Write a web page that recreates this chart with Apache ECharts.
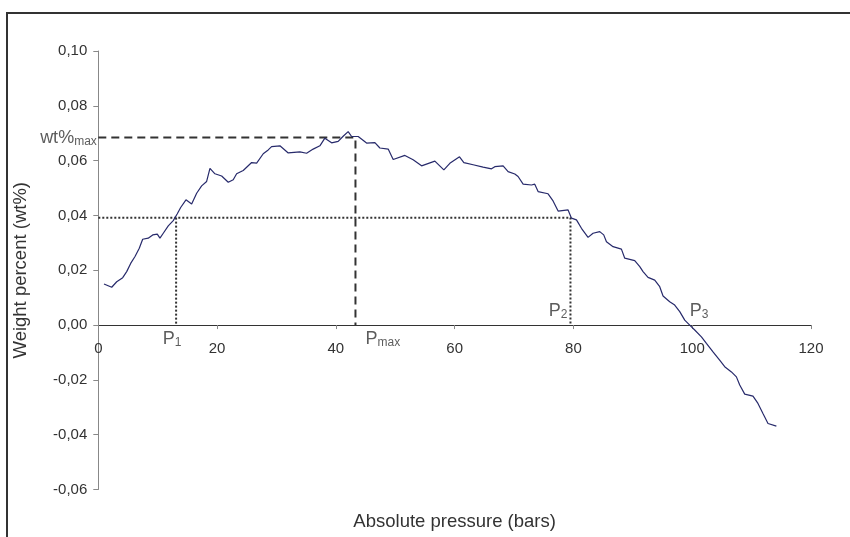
<!DOCTYPE html>
<html><head><meta charset="utf-8">
<script src="https://cdn.jsdelivr.net/npm/echarts@6/dist/echarts.min.js"></script>
<style>html,body{margin:0;padding:0;background:#fff}#c{width:850px;height:537px}</style>
</head><body><div id="c"></div>
<script>
// Absolute pressure (bars)
const pressure = [0.96,2.26,3.10,4.11,4.78,5.45,6.18,6.90,7.47,8.41,9.16,9.93,10.38,10.94,11.78,12.62,13.30,13.87,14.76,15.72,16.56,17.40,18.24,18.80,19.64,20.77,21.88,22.72,23.29,24.40,25.82,26.66,27.77,28.61,29.18,30.58,31.98,33.94,35.07,36.18,37.31,38.15,39.28,40.39,41.23,42.07,42.65,43.76,45.17,46.57,47.41,48.81,49.65,51.62,53.01,54.43,56.67,58.18,59.19,60.82,61.55,63.11,64.79,66.21,66.76,68.16,69.00,70.13,70.68,71.53,72.94,73.49,74.05,75.73,76.57,77.42,79.10,79.67,80.51,81.35,82.46,83.30,84.43,85.10,85.56,86.67,88.08,88.64,90.32,91.17,91.72,92.56,93.69,94.53,95.09,96.21,97.05,97.90,98.74,99.58,100.42,101.55,102.39,103.50,104.62,105.47,106.60,107.44,108.00,108.84,110.23,111.07,111.91,112.76,114.17];
// Weight percent (wt%)
const wtPercent = [0.0150,0.0138,0.0158,0.0173,0.0195,0.0225,0.0250,0.0280,0.0313,0.0317,0.0329,0.0332,0.0317,0.0335,0.0362,0.0381,0.0406,0.0429,0.0457,0.0442,0.0481,0.0508,0.0524,0.0572,0.0552,0.0544,0.0521,0.0530,0.0552,0.0564,0.0593,0.0591,0.0625,0.0639,0.0651,0.0654,0.0628,0.0632,0.0627,0.0642,0.0654,0.0682,0.0665,0.0670,0.0689,0.0706,0.0688,0.0688,0.0664,0.0666,0.0646,0.0642,0.0604,0.0619,0.0603,0.0581,0.0598,0.0566,0.0590,0.0614,0.0593,0.0585,0.0576,0.0570,0.0578,0.0581,0.0560,0.0551,0.0542,0.0514,0.0511,0.0514,0.0487,0.0479,0.0453,0.0416,0.0420,0.0390,0.0384,0.0353,0.0320,0.0335,0.0341,0.0329,0.0304,0.0286,0.0277,0.0244,0.0235,0.0213,0.0195,0.0174,0.0164,0.0140,0.0106,0.0085,0.0073,0.0049,0.0018,0.0000,-0.0018,-0.0043,-0.0067,-0.0098,-0.0128,-0.0152,-0.0171,-0.0189,-0.0219,-0.0252,-0.0259,-0.0286,-0.0323,-0.0359,-0.0369];
// Annotation values
const wtMax = 0.0684;
const pMax = 43.3;
const wtLevel = 0.0392;
const p1 = 13.1;
const p2 = 79.5;
const p3 = 99.6;
// Axis ranges
const xRange = [0, 120, 20];
const yRange = [-0.06, 0.10, 0.02];

const FONT = '"Liberation Sans", Arial, sans-serif';
const TXT = '#333';
const rich = {
  m: {fontSize: 18, fontFamily: FONT, color: TXT, lineHeight: 20},
  s: {fontSize: 12, fontFamily: FONT, color: TXT, verticalAlign: 'bottom', lineHeight: 14}
};

const curve = pressure.map((p, i) => [p, wtPercent[i]]);

const GRID = {left: 98.3, right: 39, top: 51, bottom: 47.5};
const plotH = 537 - GRID.top - GRID.bottom;
// shift the x axis (line, ticks, labels) up to y = 0
const zeroShift = plotH * (0 - yRange[0]) / (yRange[1] - yRange[0]);

const chart = echarts.init(document.getElementById('c'), null, {renderer: 'canvas'});
chart.setOption({
  animation: false,
  backgroundColor: '#fff',
  grid: Object.assign({containLabel: false, outerBoundsMode: 'none'}, GRID),
  graphic: [{
    type: 'polyline', shape: {points: [[7, 537], [7, 13], [850, 13]]},
    style: {stroke: '#333', lineWidth: 2, fill: null}
  }],
  xAxis: {
    type: 'value', min: xRange[0], max: xRange[1], interval: xRange[2],
    offset: -zeroShift,
    name: 'Absolute pressure (bars)', nameLocation: 'middle', nameGap: 187,
    nameTextStyle: {fontSize: 18.5, fontFamily: FONT, color: TXT},
    splitLine: {show: false},
    axisLine: {onZero: false, lineStyle: {color: '#333', width: 1}},
    axisTick: {show: true, length: 4, inside: false, lineStyle: {color: '#888'}},
    axisLabel: {fontSize: 15, fontFamily: FONT, color: TXT, margin: 16}
  },
  yAxis: {
    type: 'value', min: yRange[0], max: yRange[1], interval: yRange[2],
    name: 'Weight percent (wt%)', nameLocation: 'middle', nameGap: 68, nameRotate: 90,
    nameTextStyle: {fontSize: 18.5, fontFamily: FONT, color: TXT},
    splitLine: {show: false},
    axisLine: {show: true, onZero: true, lineStyle: {color: '#888', width: 1}},
    axisTick: {show: true, length: 5, lineStyle: {color: '#888'}},
    axisLabel: {fontSize: 15, fontFamily: FONT, color: TXT, margin: 11,
      formatter: v => v.toFixed(2).replace('.', ',')}
  },
  series: [
    {type: 'line', data: [[0, wtMax], [pMax, wtMax], [pMax, 0]], showSymbol: false, silent: true,
      lineStyle: {color: '#333', width: 2, type: [8, 5]}, z: 2},
    {type: 'line', data: [[0, wtLevel], [p2, wtLevel], [p2, 0]], showSymbol: false, silent: true,
      lineStyle: {color: '#333', width: 2, type: [2, 2]}, z: 2},
    {type: 'line', data: [[p1, wtLevel], [p1, 0]], showSymbol: false, silent: true,
      lineStyle: {color: '#333', width: 2, type: [2, 2]}, z: 2},
    {type: 'line', data: curve, showSymbol: false, smooth: false,
      lineStyle: {color: '#272a6b', width: 1.2}, z: 5},
    {type: 'scatter', symbolSize: 1, itemStyle: {color: 'rgba(0,0,0,0)'}, silent: true, z: 6,
      label: {show: true, rich: rich},
      data: [
        {value: [p1, 0], label: {position: 'bottom', distance: 3, offset: [-4, 0], formatter: '{m|P}{s|1}'}},
        {value: [pMax, 0], label: {position: 'bottom', align: 'left', distance: 3, offset: [10, 0], formatter: '{m|P}{s|max}'}},
        {value: [p2, 0], label: {position: 'top', align: 'right', distance: 4, offset: [-3, 0], formatter: '{m|P}{s|2}'}},
        {value: [p3, 0], label: {position: 'top', align: 'left', distance: 4, offset: [0, 0], formatter: '{m|P}{s|3}'}},
        {value: [0, wtMax], label: {position: 'left', distance: 1, formatter: '{m|wt%}{s|max}'}}
      ]}
  ]
});
</script></body></html>
